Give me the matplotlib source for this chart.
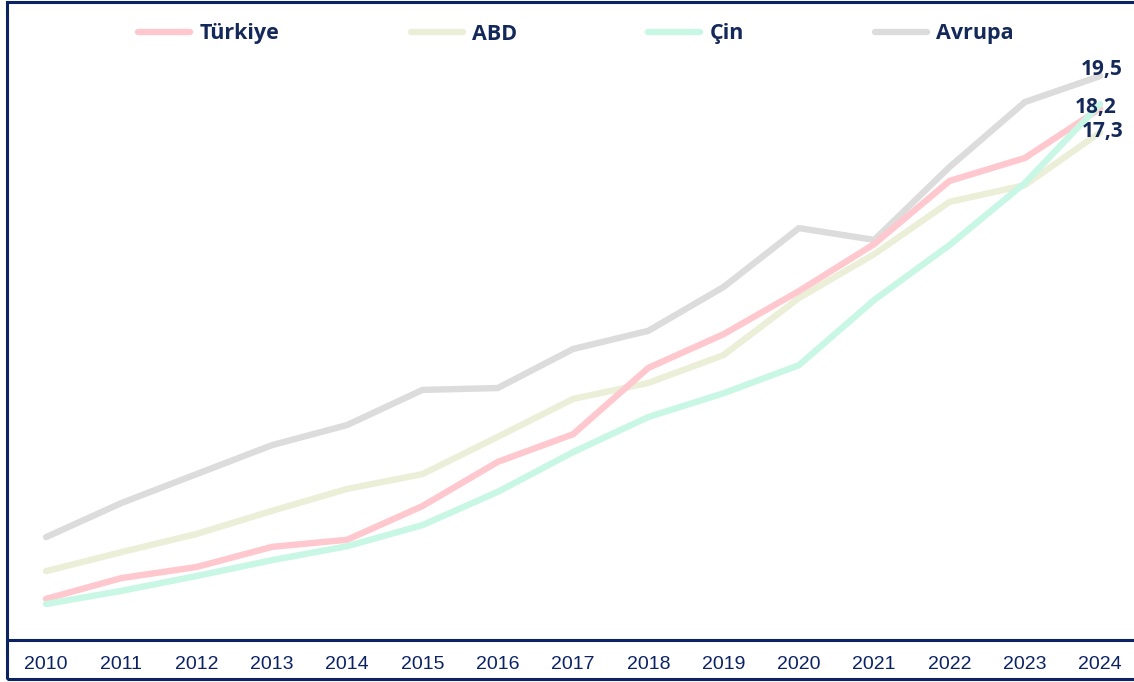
import matplotlib
matplotlib.use("Agg")
import matplotlib.pyplot as plt
from matplotlib.patches import Rectangle

years = list(range(2010, 2025))
series_names = ["Türkiye", "ABD", "Çin", "Avrupa"]
turkiye = [6.41, 6.70, 6.86, 7.16, 7.27, 7.81, 8.58, 9.10, 10.48, 11.26, 12.34, 13.64, 15.60, 16.38, 18.2]
abd = [6.80, 7.08, 7.36, 7.73, 8.10, 8.36, 9.05, 9.81, 10.15, 10.77, 12.16, 13.35, 14.92, 15.46, 17.3]
cin = [6.34, 6.52, 6.73, 6.96, 7.17, 7.50, 8.05, 8.76, 9.44, 9.93, 10.54, 12.11, 13.61, 15.53, 18.37]
avrupa = [7.31, 7.86, 8.36, 8.89, 9.28, 10.00, 10.04, 10.91, 11.34, 12.45, 14.11, 13.76, 16.07, 18.45, 19.5]
end_labels = {"Avrupa": "19,5", "Türkiye": "18,2", "ABD": "17,3"}

colors = {"Türkiye": "#FFC8CE", "ABD": "#EBEFD8", "Çin": "#C9F7E6", "Avrupa": "#DCDCDC"}
navy = "#0B2265"
text_navy = "#14295A"

W, H = 1134, 682
fig = plt.figure(figsize=(W / 100, H / 100), dpi=100)
fig.patch.set_facecolor("white")

ax = fig.add_axes([8 / W, (H - 640) / H, (W - 8) / W, (640 - 8) / H])
ax.set_yscale("log")
ax.set_xlim(2009.495, 2024.45)
ax.set_ylim(5.873, 22.54)

data = {"Türkiye": turkiye, "ABD": abd, "Çin": cin, "Avrupa": avrupa}
lines = {}
for z, name in enumerate(["Avrupa", "ABD", "Türkiye", "Çin"]):
    (ln,) = ax.plot(years, data[name], color=colors[name], lw=4.6,
                    solid_capstyle="round", solid_joinstyle="miter", zorder=2 + z, label=name)
    lines[name] = ln

offsets = {"Avrupa": (1.5, 5.0), "Türkiye": (-3.0, 0.5), "ABD": (1.5, 0.5)}
for name, txt in end_labels.items():
    ax.annotate(txt, xy=(years[-1], data[name][-1]), xytext=offsets[name],
                textcoords="offset points", ha="center", va="center",
                fontsize=15, fontweight="bold", family="Open Sans", color=text_navy,
                zorder=10, annotation_clip=False)

for s in ["left", "right", "top"]:
    ax.spines[s].set_visible(False)
ax.spines["bottom"].set_color(navy)
ax.spines["bottom"].set_linewidth(2.2)
ax.set_yticks([])
ax.set_yticks([], minor=True)
ax.yaxis.set_minor_formatter(matplotlib.ticker.NullFormatter())
ax.set_xticks(years)
ax.set_xticklabels([str(y) for y in years], fontsize=14, family="Liberation Sans", color=navy)
ax.tick_params(axis="x", length=0, pad=11.5)
ax.patch.set_alpha(0)

fig.patches.append(Rectangle((7 / W, (H - 679) / H), 1.05, (679 - 2) / H,
                             transform=fig.transFigure, fill=False,
                             edgecolor=navy, lw=2.2, clip_on=False))

handles = [lines[n] for n in series_names]
leg = fig.legend(handles, series_names, loc="center", bbox_to_anchor=(0.508, 1 - 34 / H),
                 ncol=4, frameon=False, handlelength=2.42, handletextpad=0.42,
                 columnspacing=6.1, prop={"family": "Open Sans", "weight": "bold", "size": 15.5})
for t in leg.get_texts():
    t.set_color(text_navy)

fig.savefig("out.png", dpi=100)
